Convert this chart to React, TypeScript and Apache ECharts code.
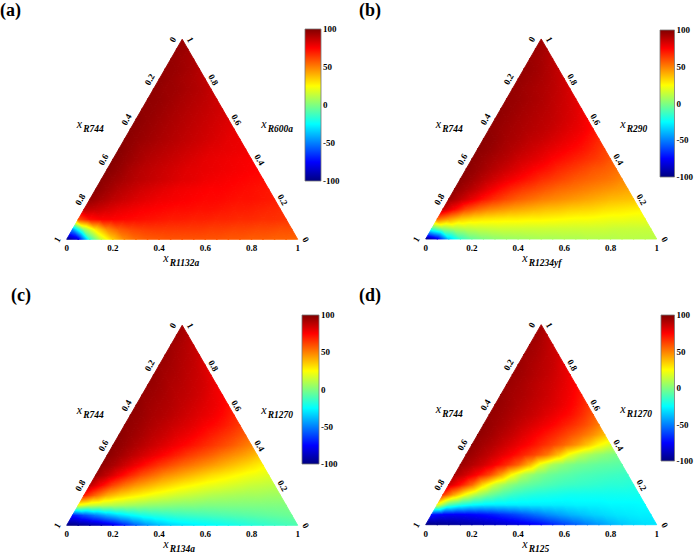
import { useEffect, useRef } from 'react';
import * as echarts from 'echarts';

// ---------- data ----------
const TERNARY_TICKS = [0, 0.2, 0.4, 0.6, 0.8, 1];
const COLORBAR_MIN = -100;
const COLORBAR_MAX = 100;
const COLORBAR_STEP = 50;
const GRID_STEP = 0.05; // composition step of the value grids below
const PANEL_LABELS = ['(a)', '(b)', '(c)', '(d)'];
const LEFT_NAMES = ['R744', 'R744', 'R744', 'R744'];
const RIGHT_NAMES = ['R600a', 'R290', 'R1270', 'R1270'];
const BOTTOM_NAMES = ['R1132a', 'R1234yf', 'R134a', 'R125'];

// rows: right-axis fraction c = 0, 0.05, ... 1 ; columns: bottom-axis fraction b = 0, 0.05, ... (1 - c)
const FIELD_A = [
  [-100, -80, -15, 15, 35, 48, 54, 57, 58, 59, 59, 59, 59, 59, 58, 58, 57, 57, 56, 56, 55],
  [-45, 5, 30, 48, 57, 61, 63, 64, 64, 64, 64, 64, 63, 63, 62, 62, 61, 61, 60, 60],
  [60, 72, 75, 75, 74, 73, 72, 71, 70, 70, 69, 69, 68, 68, 67, 67, 66, 66, 65],
  [88, 86, 83, 80, 78, 76, 75, 74, 73, 73, 72, 72, 71, 70, 70, 69, 68, 67],
  [96, 92, 88, 85, 82, 80, 78, 77, 76, 75, 74, 74, 73, 72, 72, 71, 70],
  [98, 94, 90, 87, 84, 82, 80, 78, 77, 76, 75, 75, 74, 73, 72, 71],
  [98, 95, 92, 89, 87, 85, 83, 81, 80, 78, 77, 76, 75, 74, 73],
  [99, 96, 92, 89, 87, 85, 83, 81, 80, 79, 78, 77, 76, 75],
  [99, 96, 93, 90, 88, 86, 84, 82, 80, 79, 78, 77, 76],
  [99, 96, 93, 91, 89, 87, 85, 83, 81, 80, 79, 78],
  [98, 96, 94, 92, 90, 88, 86, 84, 82, 80, 79],
  [98, 96, 94, 92, 90, 88, 86, 84, 82, 80],
  [98, 96, 94, 92, 90, 88, 86, 84, 82],
  [97, 96, 94, 92, 90, 88, 86, 84],
  [97, 96, 94, 92, 90, 88, 85],
  [97, 95, 94, 92, 90, 87],
  [97, 95, 93, 91, 88],
  [96, 95, 93, 90],
  [96, 94, 92],
  [96, 94],
  [95],
];

const FIELD_B = [
  [-100, -80, -35, -15, -5, 0, 3, 5, 6, 7, 8, 8, 9, 9, 10, 10, 10, 11, 11, 11, 11],
  [-15, 2, 8, 11, 13, 14, 15, 15, 15, 15, 15, 15, 15, 15, 15, 15, 14, 14, 14, 14],
  [55, 45, 36, 32, 30, 29, 28, 28, 27, 27, 26, 25, 24, 24, 23, 22, 22, 21, 21],
  [88, 75, 62, 55, 50, 47, 44, 42, 40, 38, 37, 35, 34, 33, 31, 30, 29, 28],
  [95, 88, 80, 72, 66, 61, 57, 54, 51, 49, 47, 45, 43, 41, 39, 38, 37],
  [97, 92, 86, 79, 73, 68, 64, 61, 58, 55, 53, 51, 49, 47, 45, 43],
  [98, 94, 89, 84, 79, 75, 71, 67, 64, 61, 58, 56, 54, 52, 49],
  [98, 95, 91, 87, 83, 79, 75, 72, 68, 65, 62, 59, 57, 54],
  [98, 95, 92, 89, 85, 82, 79, 75, 72, 69, 66, 63, 59],
  [98, 96, 93, 90, 87, 84, 81, 78, 75, 72, 68, 63],
  [98, 96, 93, 91, 88, 86, 83, 80, 77, 73, 68],
  [97, 95, 93, 91, 89, 87, 84, 81, 78, 73],
  [97, 95, 93, 91, 89, 87, 84, 81, 76],
  [97, 95, 93, 91, 89, 86, 83, 79],
  [96, 95, 93, 91, 88, 85, 81],
  [96, 94, 92, 90, 87, 83],
  [96, 94, 92, 89, 85],
  [96, 94, 91, 87],
  [95, 93, 89],
  [95, 92],
  [94],
];

const FIELD_C = [
  [-100, -97, -93, -88, -80, -68, -55, -45, -38, -33, -30, -28, -26, -24, -22, -20, -18, -16, -14, -12, -10],
  [-70, -60, -50, -40, -32, -26, -21, -18, -16, -14, -13, -12, -11, -10, -9, -8, -7, -6, -5, -4],
  [22, 15, 12, 10, 8, 6, 4, 3, 2, 1, 1, 0, 0, 0, 0, 0, 0, 0, 0],
  [70, 55, 42, 35, 30, 26, 22, 19, 16, 14, 12, 10, 9, 8, 7, 7, 6, 6],
  [88, 75, 62, 53, 46, 41, 36, 32, 28, 25, 22, 20, 18, 16, 14, 13, 12],
  [95, 87, 77, 68, 60, 54, 48, 44, 40, 36, 32, 29, 26, 23, 21, 19],
  [97, 92, 85, 78, 71, 65, 60, 55, 51, 47, 43, 39, 35, 31, 27],
  [98, 94, 89, 84, 79, 74, 69, 64, 60, 56, 51, 47, 43, 38],
  [98, 95, 91, 87, 83, 79, 75, 71, 67, 63, 59, 54, 49],
  [98, 95, 92, 88, 85, 81, 78, 74, 70, 66, 62, 57],
  [97, 95, 92, 89, 86, 83, 80, 76, 73, 69, 64],
  [97, 95, 92, 90, 87, 84, 81, 78, 74, 69],
  [97, 94, 92, 90, 87, 84, 81, 78, 73],
  [96, 94, 92, 89, 87, 84, 80, 76],
  [96, 94, 91, 89, 86, 83, 78],
  [96, 93, 91, 88, 85, 80],
  [95, 93, 90, 87, 82],
  [95, 92, 89, 85],
  [94, 91, 87],
  [94, 90],
  [93],
];

const FIELD_D = [
  [-100, -98, -96, -94, -92, -90, -88, -85, -82, -78, -74, -68, -62, -56, -50, -45, -40, -36, -33, -31, -30],
  [-72, -76, -77, -76, -74, -71, -67, -63, -58, -53, -48, -44, -40, -37, -34, -32, -30, -29, -28, -28],
  [22, -8, -18, -24, -27, -28, -28, -28, -28, -28, -28, -28, -27, -27, -27, -26, -26, -26, -25],
  [65, 42, 22, 8, -2, -9, -14, -17, -19, -20, -21, -22, -22, -22, -22, -22, -22, -22],
  [85, 72, 55, 32, 15, 5, -2, -6, -9, -11, -13, -14, -15, -16, -17, -17, -18],
  [92, 84, 74, 62, 45, 25, 10, 2, -3, -6, -8, -10, -11, -12, -13, -14],
  [95, 90, 84, 76, 67, 56, 40, 20, 8, 2, -2, -4, -6, -7, -8],
  [96, 92, 87, 81, 75, 68, 61, 52, 38, 22, 12, 6, 2, -1],
  [97, 93, 89, 84, 79, 74, 68, 62, 55, 47, 37, 26, 18],
  [97, 94, 90, 86, 81, 76, 71, 66, 60, 54, 47, 38],
  [97, 94, 91, 87, 83, 79, 75, 70, 65, 59, 51],
  [96, 94, 91, 88, 85, 81, 77, 73, 67, 59],
  [96, 94, 91, 88, 85, 82, 78, 73, 66],
  [96, 93, 91, 88, 85, 81, 77, 71],
  [95, 93, 90, 87, 84, 80, 75],
  [95, 93, 90, 87, 83, 78],
  [95, 92, 89, 86, 80],
  [94, 92, 88, 84],
  [94, 91, 86],
  [94, 89],
  [93],
];

const FIELDS = [FIELD_A, FIELD_B, FIELD_C, FIELD_D];

// jet colour map break points
const JET_VALUES = [-100, -75, -25, 25, 75, 100];
const JET_COLORS = [
  [0, 0, 128],
  [0, 0, 255],
  [0, 255, 255],
  [255, 255, 0],
  [255, 0, 0],
  [128, 0, 0],
];

// ---------- layout ----------
const SIDE = 231;
const SQ = Math.sqrt(3) / 2;
const LAYOUT = [
  { triX: 66.7, triBase: 239.3, cb: [305, 29, 16, 152], tag: [0, 1] },
  { triX: 425.7, triBase: 239, cb: [660, 30, 15, 147], tag: [359, 1] },
  { triX: 66.7, triBase: 525.3, cb: [302, 315, 17, 149], tag: [11, 286] },
  { triX: 425.7, triBase: 524.7, cb: [661, 315, 15.5, 146], tag: [359, 286] },
];
const SERIF = "'Liberation Serif', 'Times New Roman', serif";

function jetColor(v: number): string {
  const x = Math.max(JET_VALUES[0], Math.min(JET_VALUES[JET_VALUES.length - 1], v));
  for (let s = 0; s < JET_VALUES.length - 1; s++) {
    if (x <= JET_VALUES[s + 1]) {
      const f = (x - JET_VALUES[s]) / (JET_VALUES[s + 1] - JET_VALUES[s]);
      const a = JET_COLORS[s];
      const b = JET_COLORS[s + 1];
      const r = Math.round(a[0] + (b[0] - a[0]) * f);
      const g = Math.round(a[1] + (b[1] - a[1]) * f);
      const bl = Math.round(a[2] + (b[2] - a[2]) * f);
      return `rgb(${r},${g},${bl})`;
    }
  }
  return 'rgb(128,0,0)';
}

function cellFill(p0: number[], p1: number[], p2: number[], v0: number, v1: number, v2: number) {
  const vmin = Math.min(v0, v1, v2);
  const vmax = Math.max(v0, v1, v2);
  if (vmax - vmin < 0.3) return jetColor((v0 + v1 + v2) / 3);
  const d1x = p1[0] - p0[0];
  const d1y = p1[1] - p0[1];
  const d2x = p2[0] - p0[0];
  const d2y = p2[1] - p0[1];
  const det = d1x * d2y - d1y * d2x;
  const dv1 = v1 - v0;
  const dv2 = v2 - v0;
  const gx = (dv1 * d2y - dv2 * d1y) / det;
  const gy = (d1x * dv2 - d2x * dv1) / det;
  const g2 = gx * gx + gy * gy;
  const sx = p0[0] + ((vmin - v0) * gx) / g2;
  const sy = p0[1] + ((vmin - v0) * gy) / g2;
  const ex = p0[0] + ((vmax - v0) * gx) / g2;
  const ey = p0[1] + ((vmax - v0) * gy) / g2;
  const stops: { offset: number; color: string }[] = [{ offset: 0, color: jetColor(vmin) }];
  for (const s of JET_VALUES) {
    if (s > vmin && s < vmax) stops.push({ offset: (s - vmin) / (vmax - vmin), color: jetColor(s) });
  }
  stops.push({ offset: 1, color: jetColor(vmax) });
  return new echarts.graphic.LinearGradient(sx, sy, ex, ey, stops, true);
}

function tickText(t: number): string {
  if (t === 0) return '0';
  if (t === 1) return '1';
  return t.toFixed(1);
}

function buildOption() {
  const grid: any[] = [];
  const xAxis: any[] = [];
  const yAxis: any[] = [];
  const series: any[] = [];
  const graphic: any[] = [];

  LAYOUT.forEach((L, k) => {
    const H = SIDE * SQ;
    grid.push({ left: L.triX, top: L.triBase - H, width: SIDE, height: H });
    grid.push({ left: L.cb[0], top: L.cb[1], width: L.cb[2], height: L.cb[3] });
    xAxis.push({ gridIndex: 2 * k, type: 'value', min: 0, max: 1, show: false });
    yAxis.push({ gridIndex: 2 * k, type: 'value', min: 0, max: SQ, show: false });
    xAxis.push({ gridIndex: 2 * k + 1, type: 'value', min: 0, max: 1, show: false });
    yAxis.push({
      gridIndex: 2 * k + 1,
      type: 'value',
      min: COLORBAR_MIN,
      max: COLORBAR_MAX,
      interval: COLORBAR_STEP,
      position: 'right',
      axisLine: { show: false },
      axisTick: { show: false },
      splitLine: { show: false },
      axisLabel: { margin: 2, fontSize: 9, fontWeight: 'bold', fontFamily: SERIF, color: '#000' },
    });

    const field = FIELDS[k];
    const n = field.length - 1;
    const cells: number[][] = [];
    for (let j = 0; j < n; j++) {
      for (let i = 0; i + j < n; i++) {
        cells.push([i * GRID_STEP, j * GRID_STEP, 0]);
        if (i + j + 2 <= n) cells.push([i * GRID_STEP, j * GRID_STEP, 1]);
      }
    }
    series.push({
      type: 'custom',
      xAxisIndex: 2 * k,
      yAxisIndex: 2 * k,
      silent: true,
      data: cells,
      renderItem: (params: any, api: any) => {
        const i = Math.round(api.value(0) / GRID_STEP);
        const j = Math.round(api.value(1) / GRID_STEP);
        const kind = api.value(2);
        const pt = (ii: number, jj: number) =>
          api.coord([ii * GRID_STEP + (jj * GRID_STEP) / 2, jj * GRID_STEP * SQ]);
        const verts =
          kind === 0
            ? [[i, j], [i + 1, j], [i, j + 1]]
            : [[i + 1, j], [i + 1, j + 1], [i, j + 1]];
        const pts = verts.map((v) => pt(v[0], v[1]));
        const vals = verts.map((v) => field[v[1]][v[0]]);
        const fill = cellFill(pts[0], pts[1], pts[2], vals[0], vals[1], vals[2]);
        const interior = kind === 1;
        return {
          type: 'polygon',
          shape: { points: pts },
          style: { fill, stroke: fill, lineWidth: interior ? 1.3 : 0.9, lineJoin: 'round' },
        };
      },
    });

    // ternary tick labels
    const tickData: number[][] = [];
    for (let ax = 0; ax < 3; ax++) TERNARY_TICKS.forEach((t) => tickData.push([ax, t]));
    series.push({
      type: 'custom',
      xAxisIndex: 2 * k,
      yAxisIndex: 2 * k,
      silent: true,
      z: 5,
      data: tickData,
      renderItem: (params: any, api: any) => {
        const ax = api.value(0);
        const t = api.value(1);
        let X = 0, Y = 0, dx = 0, dy = 0, rot = 0;
        if (ax === 0) {
          const c = 1 - t;
          X = c / 2; Y = c * SQ; dx = -9.5; dy = 0.3; rot = Math.PI / 3;
        } else if (ax === 1) {
          X = 1 - t / 2; Y = t * SQ; dx = 8; dy = 0.5; rot = -Math.PI / 3;
        } else {
          X = t; Y = 0; dx = 0; dy = 9; rot = 0;
        }
        const p = api.coord([X, Y]);
        return {
          type: 'text',
          x: p[0] + dx,
          y: p[1] + dy,
          rotation: rot,
          style: {
            text: tickText(t),
            fill: '#000',
            font: `bold 9px ${SERIF}`,
            align: 'center',
            verticalAlign: 'middle',
          },
        };
      },
    });

    // colour bar
    series.push({
      type: 'custom',
      xAxisIndex: 2 * k + 1,
      yAxisIndex: 2 * k + 1,
      silent: true,
      data: [[0.5, 0]],
      renderItem: (params: any) => {
        const cs = params.coordSys;
        const stops = JET_VALUES.map((v) => ({
          offset: (v - COLORBAR_MIN) / (COLORBAR_MAX - COLORBAR_MIN),
          color: jetColor(v),
        }));
        return {
          type: 'rect',
          shape: { x: cs.x, y: cs.y, width: cs.width, height: cs.height },
          style: {
            fill: new echarts.graphic.LinearGradient(0, 1, 0, 0, stops),
            stroke: '#777',
            lineWidth: 0.8,
          },
        };
      },
    });

    // panel tag and axis titles
    graphic.push({
      type: 'text',
      x: L.tag[0],
      y: L.tag[1],
      style: { text: PANEL_LABELS[k], fill: '#000', font: `bold 18px ${SERIF}`, align: 'left', verticalAlign: 'top' },
    });
    const title = (x: number, y: number, name: string) => {
      graphic.push({
        type: 'text',
        x,
        y,
        style: { text: 'x', fill: '#000', font: `italic 12px ${SERIF}`, align: 'left', verticalAlign: 'middle' },
      });
      graphic.push({
        type: 'text',
        x: x + 6.5,
        y: y + 5,
        style: { text: name, fill: '#000', font: `italic bold 9.5px ${SERIF}`, align: 'left', verticalAlign: 'middle' },
      });
    };
    title(L.triX + 10, L.triBase - 115.5, LEFT_NAMES[k]);
    title(L.triX + 194.5, L.triBase - 115.5, RIGHT_NAMES[k]);
    title(L.triX + 96.5, L.triBase + 19, BOTTOM_NAMES[k]);
  });

  return {
    animation: false,
    backgroundColor: '#fff',
    grid,
    xAxis,
    yAxis,
    series,
    graphic,
  };
}

export default function App() {
  const ref = useRef<HTMLDivElement>(null);
  useEffect(() => {
    if (!ref.current) return;
    const chart = echarts.init(ref.current, undefined, { renderer: 'svg' });
    chart.setOption(buildOption() as any);
    return () => chart.dispose();
  }, []);
  return (
    <div
      ref={ref}
      style={{ position: 'absolute', left: 0, top: 0, width: 696, height: 555, background: '#fff' }}
    />
  );
}
